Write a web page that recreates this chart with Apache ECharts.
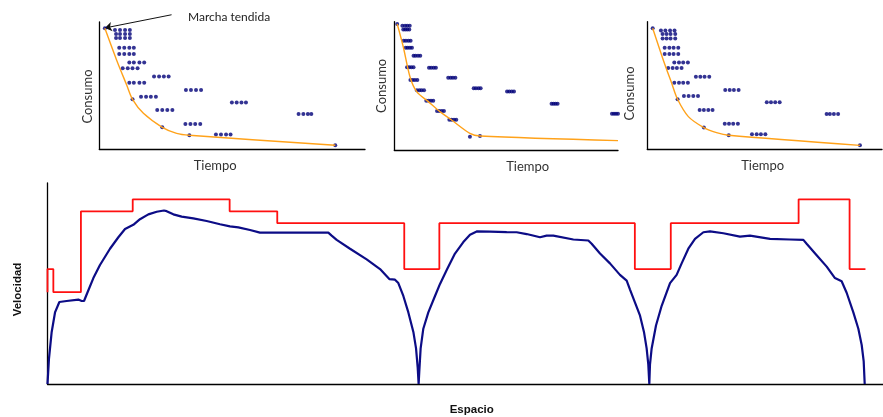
<!DOCTYPE html>
<html>
<head>
<meta charset="utf-8">
<script src="https://cdn.jsdelivr.net/npm/echarts@6.0.0/dist/echarts.min.js"></script>
<style>
html, body { margin: 0; padding: 0; background: #fff; }
#chart { width: 883px; height: 417px; }
</style>
</head>
<body>
<div id="chart"></div>
<script>
// filas de puntos de las 3 graficas pequeñas: [consumo, tiempo1, tiempo2, tiempo3, tiempo4]
const p1Rows = [
  [93.7, 5.9, 7.8, 9.7, 11.5], [90.6, 6.3, 7.8, 9.7, 11.5], [87.4, 6.3, 7.8, 9.7, 11.5],
  [79.8, 7.5, 9.4, 11.3, 13.0], [74.8, 7.5, 9.4, 11.3, 13.0], [68.2, 11.3, 13.0, 15.1, 16.9],
  [63.5, 8.8, 10.7, 12.5, 14.4], [57.0, 20.6, 22.5, 24.3, 26.1], [52.2, 11.3, 13.0, 15.1, 16.9],
  [46.5, 32.6, 34.5, 36.4, 38.3], [41.2, 15.7, 17.6, 19.4, 21.3], [36.7, 49.9, 51.7, 53.5, 55.2],
  [30.7, 21.8, 23.7, 25.6, 27.5], [27.6, 75.0, 76.8, 78.5, 79.8], [19.7, 32.4, 34.3, 36.1, 38.0],
  [11.5, 43.9, 45.8, 47.7, 49.4]
];
const p1Curve = [[2.1, 95.0], [6.5, 70.1], [10.3, 50.4], [12.5, 39.1], [16.6, 28.1], [23.7, 17.1], [29.1, 12.3], [33.9, 10.8], [88.8, 2.9]];
const p1Marks = [[2.1, 95.0], [12.5, 39.1], [23.7, 17.1], [33.9, 10.8], [88.8, 2.9]];

const p2Rows = [
  [96.9, 3.6, 4.8, 5.8, 6.9], [94.0, 4.0, 4.9, 5.8, 6.7], [85.2, 4.2, 5.2, 6.3, 7.3],
  [79.7, 5.1, 6.0, 7.0, 7.9], [73.5, 8.6, 9.5, 10.6, 11.6], [64.4, 5.7, 6.6, 7.6, 8.6],
  [64.2, 15.5, 16.5, 17.6, 18.6], [54.5, 7.2, 8.2, 9.2, 10.3], [56.4, 24.1, 25.2, 26.2, 27.3],
  [46.5, 10.1, 11.2, 12.2, 13.3], [48.1, 35.5, 36.5, 37.6, 38.6], [45.5, 50.4, 51.4, 52.5, 53.5],
  [38.4, 14.3, 15.4, 16.4, 17.4], [30.4, 19.1, 20.1, 21.2, 22.2], [23.6, 24.6, 25.6, 26.7, 27.7],
  [36.1, 70.3, 71.2, 72.1, 73.0], [28.3, 97.3, 98.2, 99.1, 100]
];
const p2Curve = [[1.3, 98.2], [4.0, 80.5], [7.0, 57.1], [10.0, 45.5], [15.2, 37.7], [20.4, 29.9], [25.6, 23.4], [33.8, 13.0], [38.3, 10.9], [100, 7.3]];
const p2Marks = [[1.3, 98.2], [33.8, 10.4], [38.3, 10.9]];

const p3Rows = [
  [93.2, 5.8, 7.7, 9.7, 11.6], [90.3, 6.5, 8.2, 9.9, 11.9], [86.9, 6.5, 8.2, 9.9, 11.9],
  [79.6, 7.4, 9.4, 11.2, 13.2], [74.7, 7.4, 9.4, 11.2, 13.2], [68.1, 11.5, 13.5, 15.3, 17.3],
  [63.7, 8.9, 10.8, 12.6, 14.6], [56.9, 20.7, 22.6, 24.4, 26.4], [52.2, 11.5, 13.5, 15.3, 17.3],
  [46.5, 33.2, 35.1, 36.9, 38.9], [41.8, 15.6, 17.6, 19.6, 21.6], [36.8, 50.9, 52.7, 54.5, 56.4],
  [30.8, 22.3, 24.1, 26.0, 27.8], [27.7, 76.4, 77.8, 79.5, 81.3], [20.1, 33.0, 34.8, 36.6, 38.6],
  [11.7, 44.6, 46.6, 48.4, 50.3]
];
const p3Curve = [[2.3, 94.8], [6.8, 70.0], [10.4, 51.7], [12.9, 39.2], [17.5, 25.6], [24.1, 17.0], [29.5, 13.1], [34.7, 11.0], [90.6, 3.1]];
const p3Marks = [[2.3, 94.8], [12.9, 39.2], [24.1, 17.0], [34.7, 11.0], [90.6, 3.1]];

// flecha "Marcha tendida" (coordenadas en la grafica 1)
const flecha = [[27.2, 105.7], [2.1, 95.3]];

// grafica grande: [espacio, velocidad]
const limite = [
  [0, 45.7], [0, 57.2], [0.7, 57.2], [0.7, 45.7], [4.0, 45.7], [4.0, 85.9], [10.2, 85.9],
  [10.2, 91.9], [21.8, 91.9], [21.8, 85.9], [27.5, 85.9], [27.5, 80.0], [42.7, 80.0],
  [42.7, 57.2], [46.9, 57.2], [46.9, 80.0], [70.3, 80.0], [70.3, 57.2], [74.6, 57.2],
  [74.6, 80.0], [89.9, 80.0], [89.9, 91.9], [96.0, 91.9], [96.0, 57.2], [97.9, 57.2]
];
const velocidad = [
  [0, 0], [0.18, 12.8], [0.5, 25.9], [0.9, 35.6], [1.42, 40.8], [2.29, 41.3], [3.69, 42.0],
  [4.09, 41.3], [4.37, 41.3], [4.77, 45.4], [5.49, 52.7], [6.28, 59.2], [7.48, 67.3],
  [8.48, 73.0], [9.28, 77.1], [10.27, 79.2], [11.07, 82.0], [12.07, 84.4], [13.07, 85.7],
  [13.94, 86.3], [14.26, 86.0], [15.06, 84.4], [16.06, 83.3], [17.45, 82.4], [19.05, 81.1],
  [20.65, 79.5], [21.84, 78.4], [22.84, 77.9], [24.24, 76.6], [25.43, 75.3], [33.61, 75.3],
  [34.01, 73.8], [34.61, 71.7], [36.21, 67.3], [38.2, 62.0], [39.8, 57.2], [40.91, 52.2],
  [41.59, 51.9], [41.99, 50.2], [42.59, 43.8], [43.19, 35.6], [43.79, 25.9], [44.11, 17.7],
  [44.31, 8.0], [44.42, 0], [44.5, 6.3], [44.66, 17.7], [44.98, 27.5], [45.58, 35.6],
  [46.38, 43.8], [46.98, 49.8], [47.78, 56.7], [48.77, 64.9], [49.77, 70.6], [50.57, 74.3],
  [51.37, 75.9], [52.96, 75.8], [54.96, 75.6], [56.15, 75.5], [57.35, 74.6], [58.95, 73.0],
  [59.74, 73.8], [60.54, 73.8], [62.94, 71.9], [64.73, 71.4], [65.13, 69.8], [66.13, 64.9],
  [67.32, 60.0], [68.52, 54.3], [69.32, 51.4], [69.72, 47.0], [70.32, 40.5], [70.92, 34.0],
  [71.39, 25.9], [71.71, 17.7], [71.91, 9.6], [72.03, 0], [72.11, 9.6], [72.31, 17.7],
  [72.83, 29.1], [73.51, 38.9], [74.51, 50.2], [75.3, 54.3], [75.9, 60.0], [76.7, 67.3],
  [77.5, 72.2], [78.5, 75.5], [79.3, 75.9], [80.89, 75.0], [82.88, 73.3], [84.08, 73.8],
  [86.48, 72.2], [88.87, 71.9], [90.47, 71.7], [90.86, 69.8], [92.06, 64.1], [93.26, 58.4],
  [94.25, 52.7], [95.05, 51.1], [95.65, 45.4], [96.45, 35.6], [97.05, 27.5], [97.45, 19.4],
  [97.69, 11.2], [97.81, 0]
];

const NAVY = '#0c0c86';
const DOT = '#000078';
const ORANGE = '#ffa21a';
const FONT = 'Lato';

function rowsToPoints(rows) {
  const out = [];
  rows.forEach(r => {
    for (let i = 1; i < r.length; i++) out.push([r[i], r[0]]);
  });
  return out;
}

function axisFor(idx, name, font, gap) {
  return {
    gridIndex: idx, type: 'value', min: 0, max: 100,
    name: name, nameLocation: 'middle', nameGap: gap,
    nameTextStyle: font,
    axisLine: { lineStyle: { color: '#000', width: 1.3 } },
    axisTick: { show: false }, axisLabel: { show: false }, splitLine: { show: false }
  };
}

const smallFont = (pad) => ({ fontFamily: FONT, fontSize: 13, color: '#333', padding: pad });
const bigFont = (pad) => ({ fontFamily: 'Liberation Sans', fontSize: 11.5, fontWeight: 'bold', color: '#111', padding: pad });

function panelSeries(idx, rows, curve, marks) {
  return [
    {
      type: 'line', xAxisIndex: idx, yAxisIndex: idx, data: curve,
      smooth: 0.3, showSymbol: false, clip: false,
      lineStyle: { color: ORANGE, width: 1.4 }
    },
    {
      type: 'scatter', xAxisIndex: idx, yAxisIndex: idx, data: rowsToPoints(rows),
      symbolSize: 4, itemStyle: { color: DOT }
    },
    {
      type: 'scatter', xAxisIndex: idx, yAxisIndex: idx, data: marks,
      symbolSize: 4, itemStyle: { color: DOT }
    }
  ];
}

const chart = echarts.init(document.getElementById('chart'));
const series = [].concat(
  panelSeries(0, p1Rows, p1Curve, p1Marks),
  panelSeries(1, p2Rows, p2Curve, p2Marks),
  panelSeries(2, p3Rows, p3Curve, p3Marks)
);
// flecha
series.push({
  type: 'lines', coordinateSystem: 'cartesian2d', xAxisIndex: 0, yAxisIndex: 0,
  clip: false, silent: true,
  symbol: ['none', 'arrow'], symbolSize: 7,
  lineStyle: { color: '#111', width: 1, opacity: 1 },
  data: [{ coords: flecha }]
});
series.push({
  type: 'line', xAxisIndex: 3, yAxisIndex: 3, data: limite,
  showSymbol: false, lineStyle: { color: '#ff1010', width: 1.8 }
});
series.push({
  type: 'line', xAxisIndex: 3, yAxisIndex: 3, data: velocidad,
  showSymbol: false, lineStyle: { color: NAVY, width: 2.2 }
});

chart.setOption({
  animation: false,
  backgroundColor: '#fff',
  title: {
    text: 'Marcha tendida', left: 183, top: 6,
    textStyle: { fontFamily: FONT, fontSize: 12, fontWeight: 'normal', color: '#222' }
  },
  grid: [
    { left: 99.3, top: 22, width: 265.7, height: 127 },
    { left: 394.3, top: 21.7, width: 223.7, height: 128.3 },
    { left: 647.3, top: 21.7, width: 234.7, height: 127.6 },
    { left: 47.5, top: 183, width: 835.5, height: 205 }
  ],
  xAxis: [
    axisFor(0, 'Tiempo', smallFont([0, 34, 0, 0]), 10),
    axisFor(1, 'Tiempo', smallFont([0, 0, 0, 43]), 10),
    axisFor(2, 'Tiempo', smallFont([0, 4, 0, 0]), 10),
    axisFor(3, 'Espacio', bigFont([0, 0, 0, 13]), 20)
  ],
  yAxis: [
    axisFor(0, 'Consumo', smallFont([0, 22, 0, 0]), 5),
    axisFor(1, 'Consumo', smallFont([0, 0, 0, 0]), 6),
    axisFor(2, 'Consumo', smallFont([0, 16, 0, 0]), 11),
    axisFor(3, 'Velocidad', bigFont([0, 12, 0, 0]), 24)
  ],
  series: series
});
</script>
</body>
</html>
